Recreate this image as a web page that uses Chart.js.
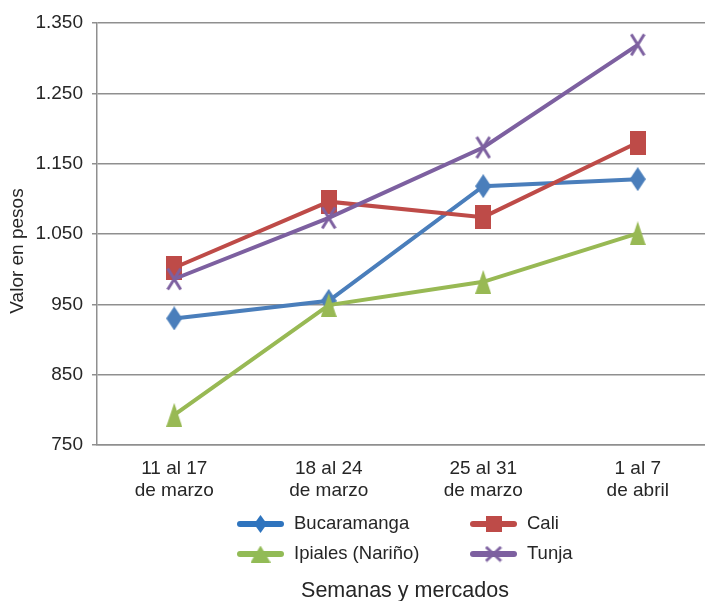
<!DOCTYPE html>
<html>
<head>
<meta charset="utf-8">
<script src="https://cdn.jsdelivr.net/npm/chart.js@4.4.1/dist/chart.umd.min.js"></script>
<style>
  html, body { margin: 0; padding: 0; background: #fff; overflow: hidden; }
  #wrap { width: 715px; height: 601px; }
</style>
</head>
<body>
<div id="wrap"><canvas id="myChart" width="715" height="601"></canvas></div>
<script>
// Weeks (x categories)
const weeks = [
  ['11 al 17', 'de marzo'],
  ['18 al 24', 'de marzo'],
  ['25 al 31', 'de marzo'],
  ['1 al 7', 'de abril'],
];

// Series values (pesos)
const bucaramanga = [930, 955, 1118, 1128];
const cali = [1002, 1096, 1074, 1180];
const ipiales = [793, 949, 982, 1051];
const tunja = [986, 1073, 1173, 1319];

// Y axis ticks
const yTickValues = [750, 850, 950, 1050, 1150, 1250, 1350];

const seriesNames = ['Bucaramanga', 'Cali', 'Ipiales (Nariño)', 'Tunja'];
const colors = ['#4A7EBB', '#BE4B48', '#98B954', '#7D60A0'];
const legendColors = ['#2F74BE', '#BE4B48', '#92BB56', '#7D60A0'];
const textColor = '#262626';
const gridColor = '#8f8f8f';
const fontFamily = '"Liberation Sans", Arial, sans-serif';

// Build a marker as a small canvas so it can be stretched like in the original
function makeMarker(type, color, w, h) {
  const c = document.createElement('canvas');
  c.width = w;
  c.height = h;
  const g = c.getContext('2d');
  g.fillStyle = color;
  g.strokeStyle = color;
  if (type === 'diamond') {
    g.beginPath();
    g.moveTo(w / 2, 0);
    g.lineTo(w, h / 2);
    g.lineTo(w / 2, h);
    g.lineTo(0, h / 2);
    g.closePath();
    g.fill();
  } else if (type === 'square') {
    g.fillRect(0, 0, w, h);
  } else if (type === 'triangle') {
    g.beginPath();
    g.moveTo(w / 2, 0);
    g.lineTo(w, h);
    g.lineTo(0, h);
    g.closePath();
    g.fill();
  } else if (type === 'cross') {
    g.lineWidth = 3;
    g.beginPath();
    g.moveTo(1.5, 1.5);
    g.lineTo(w - 1.5, h - 1.5);
    g.moveTo(w - 1.5, 1.5);
    g.lineTo(1.5, h - 1.5);
    g.stroke();
  }
  return c;
}

const markerTypes = ['diamond', 'square', 'triangle', 'cross'];
const chartMarkers = markerTypes.map((t, i) => makeMarker(t, colors[i], 16, 24));
const legendMarkers = [
  makeMarker('diamond', legendColors[0], 13, 18),
  makeMarker('square', legendColors[1], 16, 16),
  makeMarker('triangle', legendColors[2], 20, 17),
  makeMarker('cross', legendColors[3], 18, 17),
];

function formatPesos(v) {
  if (v >= 1000) {
    return Math.floor(v / 1000) + '.' + String(v % 1000).padStart(3, '0');
  }
  return String(v);
}

// Custom legend and axis titles, placed like the original
const decorations = {
  id: 'decorations',
  afterDraw(chart) {
    const ctx = chart.ctx;
    ctx.save();
    ctx.fillStyle = textColor;

    // y axis title
    ctx.save();
    ctx.translate(18, 251);
    ctx.rotate(-Math.PI / 2);
    ctx.font = '19px ' + fontFamily;
    ctx.textAlign = 'center';
    ctx.textBaseline = 'middle';
    ctx.fillText('Valor en pesos', 0, 0);
    ctx.restore();

    // x axis title
    ctx.font = '21.5px ' + fontFamily;
    ctx.textAlign = 'center';
    ctx.textBaseline = 'middle';
    ctx.fillText('Semanas y mercados', 405, 591);

    // legend, two columns
    const colX = [237, 470];
    const rowY = [524, 554];
    ctx.font = '18.5px ' + fontFamily;
    ctx.textAlign = 'left';
    seriesNames.forEach((name, i) => {
      const x = colX[i % 2];
      const y = rowY[Math.floor(i / 2)];
      ctx.strokeStyle = legendColors[i];
      ctx.lineWidth = 6;
      ctx.lineCap = 'round';
      ctx.beginPath();
      ctx.moveTo(x + 3, y);
      ctx.lineTo(x + 44, y);
      ctx.stroke();
      const m = legendMarkers[i];
      ctx.drawImage(m, x + 23.5 - m.width / 2, y - m.height / 2);
      ctx.fillStyle = textColor;
      ctx.fillText(name, x + 57, y);
    });
    ctx.restore();
  },
};

const seriesData = [bucaramanga, cali, ipiales, tunja];

new Chart(document.getElementById('myChart'), {
  type: 'line',
  data: {
    labels: weeks,
    datasets: seriesData.map((d, i) => ({
      label: seriesNames[i],
      data: d,
      borderColor: colors[i],
      backgroundColor: colors[i],
      borderWidth: 4,
      pointStyle: chartMarkers[i],
      pointRadius: 10,
      tension: 0,
      order: 4 - i,
    })),
  },
  options: {
    responsive: false,
    animation: false,
    devicePixelRatio: 1,
    layout: { autoPadding: false, padding: { top: 23, right: 0, bottom: 0, left: 0 } },
    plugins: {
      legend: { display: false },
      tooltip: { enabled: false },
    },
    scales: {
      x: {
        offset: true,
        grid: { display: false, drawTicks: false },
        border: { display: true, color: gridColor, width: 1.5 },
        ticks: {
          color: textColor,
          font: { family: fontFamily, size: 19 },
          padding: 12,
          maxRotation: 0,
        },
        afterFit(scale) {
          scale.height = 156;
        },
      },
      y: {
        min: 750,
        max: 1350,
        afterBuildTicks(scale) {
          scale.ticks = yTickValues.map((v) => ({ value: v }));
        },
        grid: { color: gridColor, lineWidth: 1.5, tickLength: 5 },
        border: { display: true, color: gridColor, width: 1.5 },
        ticks: {
          color: textColor,
          font: { family: fontFamily, size: 19 },
          padding: 9,
          callback: (v) => formatPesos(v),
        },
        afterFit(scale) {
          scale.width = 97;
        },
      },
    },
  },
  plugins: [decorations],
});
</script>
</body>
</html>
